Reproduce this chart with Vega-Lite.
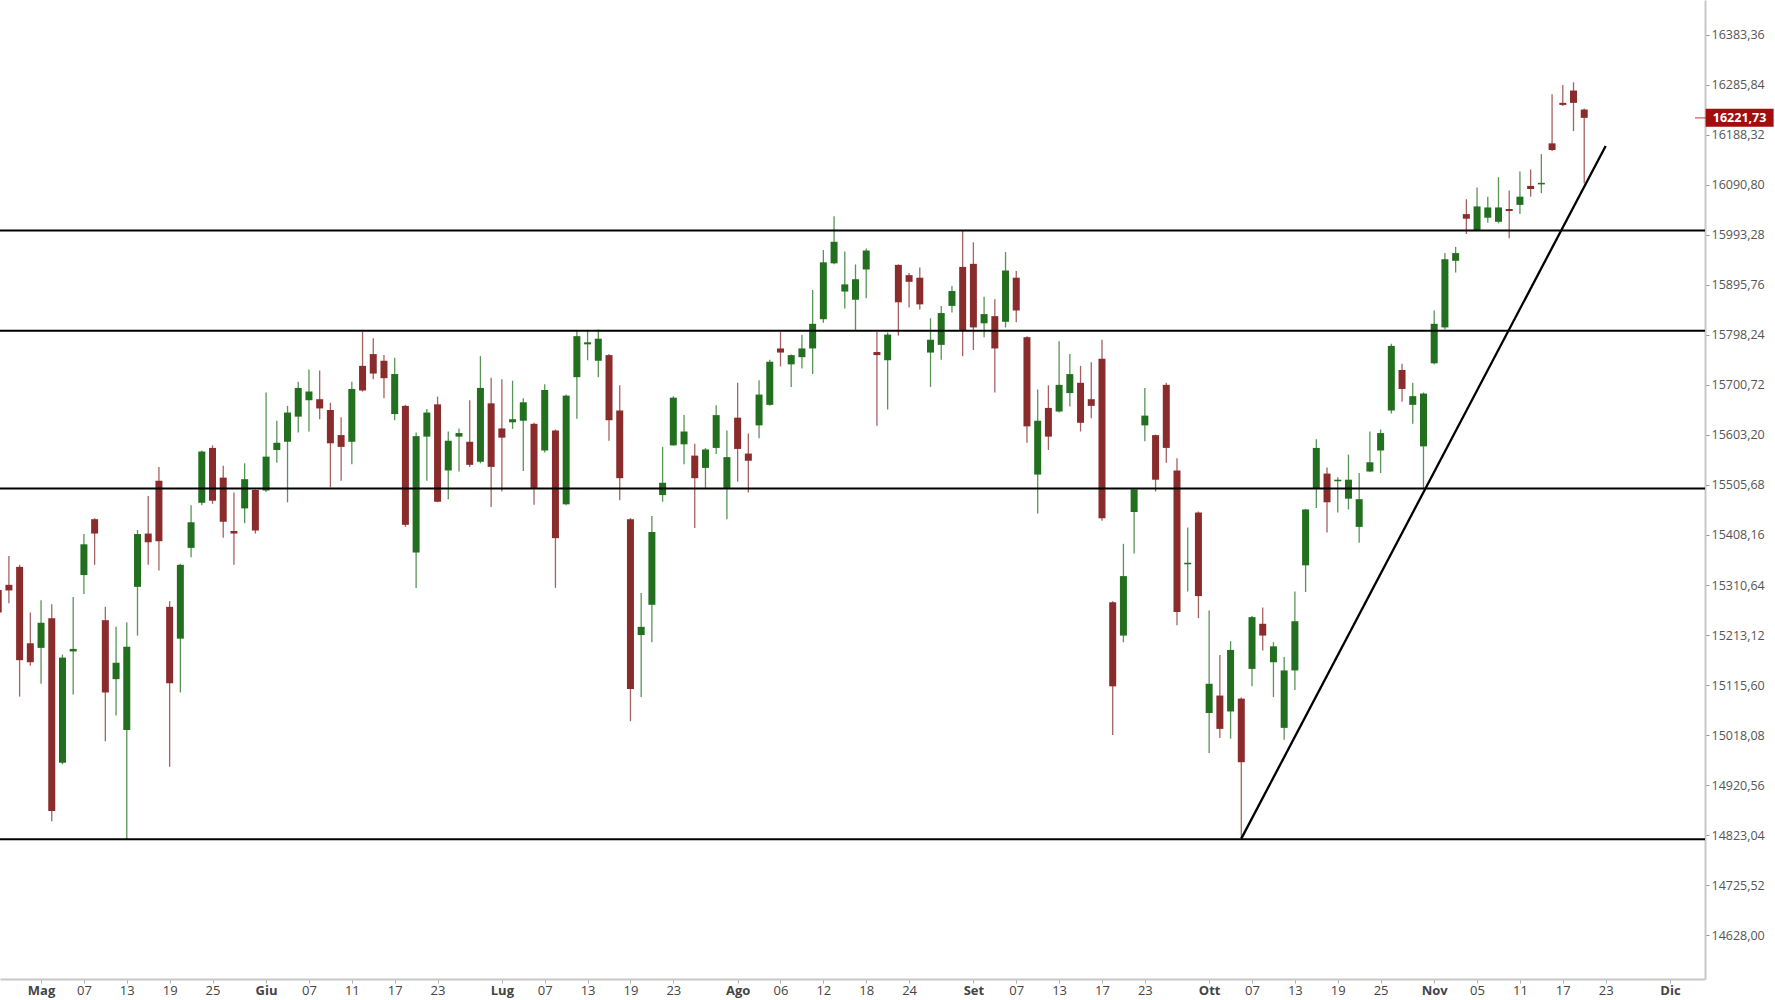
{
  "$schema": "https://vega.github.io/schema/vega-lite/v6.json",
  "width": 1705,
  "height": 979,
  "autosize": {"type": "none"},
  "padding": {"left": 0, "top": 0, "right": 70, "bottom": 21},
  "background": "white",
  "config": {"view": {"stroke": null}, "font": "Open Sans"},
  "datasets": {
    "ohlc": [
      {"d":"2021-04-27","i":-4,"o":15301,"h":15320,"l":15246,"c":15257},
      {"d":"2021-04-28","i":-3,"o":15311,"h":15367,"l":15275,"c":15300},
      {"d":"2021-04-29","i":-2,"o":15346,"h":15350,"l":15093,"c":15164},
      {"d":"2021-04-30","i":-1,"o":15197,"h":15257,"l":15153,"c":15160},
      {"d":"2021-05-03","i":0,"o":15188,"h":15281,"l":15118,"c":15237},
      {"d":"2021-05-04","i":1,"o":15246,"h":15273,"l":14850,"c":14870},
      {"d":"2021-05-05","i":2,"o":14964,"h":15175,"l":14961,"c":15169},
      {"d":"2021-05-06","i":3,"o":15181,"h":15287,"l":15097,"c":15186},
      {"d":"2021-05-07","i":4,"o":15330,"h":15410,"l":15293,"c":15390},
      {"d":"2021-05-10","i":5,"o":15439,"h":15441,"l":15350,"c":15411},
      {"d":"2021-05-11","i":6,"o":15242,"h":15268,"l":15006,"c":15101},
      {"d":"2021-05-12","i":7,"o":15127,"h":15229,"l":15056,"c":15159},
      {"d":"2021-05-13","i":8,"o":15028,"h":15238,"l":14815,"c":15190},
      {"d":"2021-05-14","i":9,"o":15307,"h":15418,"l":15212,"c":15410},
      {"d":"2021-05-17","i":10,"o":15411,"h":15484,"l":15350,"c":15394},
      {"d":"2021-05-18","i":11,"o":15514,"h":15541,"l":15339,"c":15396},
      {"d":"2021-05-19","i":12,"o":15268,"h":15279,"l":14956,"c":15119},
      {"d":"2021-05-20","i":13,"o":15206,"h":15352,"l":15101,"c":15350},
      {"d":"2021-05-21","i":14,"o":15383,"h":15466,"l":15365,"c":15433},
      {"d":"2021-05-24","i":15,"o":15471,"h":15573,"l":15466,"c":15571},
      {"d":"2021-05-25","i":16,"o":15578,"h":15583,"l":15469,"c":15475},
      {"d":"2021-05-26","i":17,"o":15520,"h":15543,"l":15403,"c":15434},
      {"d":"2021-05-27","i":18,"o":15416,"h":15491,"l":15350,"c":15411},
      {"d":"2021-05-28","i":19,"o":15460,"h":15548,"l":15431,"c":15517},
      {"d":"2021-05-31","i":20,"o":15496,"h":15497,"l":15411,"c":15417},
      {"d":"2021-06-01","i":21,"o":15495,"h":15686,"l":15492,"c":15561},
      {"d":"2021-06-02","i":22,"o":15574,"h":15631,"l":15549,"c":15588},
      {"d":"2021-06-03","i":23,"o":15590,"h":15660,"l":15472,"c":15647},
      {"d":"2021-06-04","i":24,"o":15639,"h":15707,"l":15608,"c":15695},
      {"d":"2021-06-07","i":25,"o":15671,"h":15731,"l":15610,"c":15688},
      {"d":"2021-06-08","i":26,"o":15673,"h":15729,"l":15634,"c":15655},
      {"d":"2021-06-09","i":27,"o":15652,"h":15666,"l":15501,"c":15587},
      {"d":"2021-06-10","i":28,"o":15603,"h":15638,"l":15514,"c":15580},
      {"d":"2021-06-11","i":29,"o":15590,"h":15707,"l":15546,"c":15693},
      {"d":"2021-06-14","i":30,"o":15738,"h":15805,"l":15688,"c":15690},
      {"d":"2021-06-15","i":31,"o":15761,"h":15792,"l":15712,"c":15723},
      {"d":"2021-06-16","i":32,"o":15748,"h":15759,"l":15675,"c":15714},
      {"d":"2021-06-17","i":33,"o":15644,"h":15754,"l":15632,"c":15722},
      {"d":"2021-06-18","i":34,"o":15660,"h":15662,"l":15424,"c":15428},
      {"d":"2021-06-21","i":35,"o":15374,"h":15608,"l":15305,"c":15601},
      {"d":"2021-06-22","i":36,"o":15600,"h":15654,"l":15514,"c":15647},
      {"d":"2021-06-23","i":37,"o":15663,"h":15678,"l":15472,"c":15473},
      {"d":"2021-06-24","i":38,"o":15534,"h":15610,"l":15478,"c":15592},
      {"d":"2021-06-25","i":39,"o":15600,"h":15616,"l":15532,"c":15607},
      {"d":"2021-06-28","i":40,"o":15590,"h":15671,"l":15541,"c":15545},
      {"d":"2021-06-29","i":41,"o":15551,"h":15757,"l":15548,"c":15695},
      {"d":"2021-06-30","i":42,"o":15665,"h":15715,"l":15463,"c":15541},
      {"d":"2021-07-01","i":43,"o":15616,"h":15712,"l":15493,"c":15598},
      {"d":"2021-07-02","i":44,"o":15628,"h":15709,"l":15615,"c":15634},
      {"d":"2021-07-05","i":45,"o":15631,"h":15675,"l":15533,"c":15667},
      {"d":"2021-07-06","i":46,"o":15625,"h":15627,"l":15467,"c":15500},
      {"d":"2021-07-07","i":47,"o":15573,"h":15702,"l":15569,"c":15691},
      {"d":"2021-07-08","i":48,"o":15612,"h":15614,"l":15305,"c":15402},
      {"d":"2021-07-09","i":49,"o":15468,"h":15682,"l":15466,"c":15680},
      {"d":"2021-07-12","i":50,"o":15716,"h":15807,"l":15635,"c":15796},
      {"d":"2021-07-13","i":51,"o":15780,"h":15807,"l":15749,"c":15784},
      {"d":"2021-07-14","i":52,"o":15748,"h":15809,"l":15716,"c":15791},
      {"d":"2021-07-15","i":53,"o":15759,"h":15761,"l":15592,"c":15632},
      {"d":"2021-07-16","i":54,"o":15651,"h":15700,"l":15476,"c":15519},
      {"d":"2021-07-19","i":55,"o":15439,"h":15441,"l":15045,"c":15108},
      {"d":"2021-07-20","i":56,"o":15213,"h":15295,"l":15092,"c":15229},
      {"d":"2021-07-21","i":57,"o":15272,"h":15445,"l":15199,"c":15414},
      {"d":"2021-07-22","i":58,"o":15486,"h":15580,"l":15473,"c":15510},
      {"d":"2021-07-23","i":59,"o":15583,"h":15679,"l":15582,"c":15676},
      {"d":"2021-07-26","i":60,"o":15585,"h":15642,"l":15546,"c":15610},
      {"d":"2021-07-27","i":61,"o":15563,"h":15586,"l":15422,"c":15519},
      {"d":"2021-07-28","i":62,"o":15539,"h":15578,"l":15500,"c":15575},
      {"d":"2021-07-29","i":63,"o":15578,"h":15661,"l":15566,"c":15642},
      {"d":"2021-07-30","i":64,"o":15500,"h":15612,"l":15439,"c":15560},
      {"d":"2021-08-02","i":65,"o":15637,"h":15705,"l":15512,"c":15576},
      {"d":"2021-08-03","i":66,"o":15567,"h":15606,"l":15491,"c":15553},
      {"d":"2021-08-04","i":67,"o":15622,"h":15710,"l":15597,"c":15682},
      {"d":"2021-08-05","i":68,"o":15662,"h":15750,"l":15660,"c":15746},
      {"d":"2021-08-06","i":69,"o":15772,"h":15804,"l":15737,"c":15764},
      {"d":"2021-08-09","i":70,"o":15741,"h":15760,"l":15697,"c":15759},
      {"d":"2021-08-10","i":71,"o":15755,"h":15798,"l":15733,"c":15772},
      {"d":"2021-08-11","i":72,"o":15772,"h":15886,"l":15722,"c":15820},
      {"d":"2021-08-12","i":73,"o":15829,"h":15964,"l":15822,"c":15940},
      {"d":"2021-08-13","i":74,"o":15938,"h":16030,"l":15936,"c":15980},
      {"d":"2021-08-16","i":75,"o":15883,"h":15961,"l":15850,"c":15897},
      {"d":"2021-08-17","i":76,"o":15867,"h":15936,"l":15808,"c":15907},
      {"d":"2021-08-18","i":77,"o":15926,"h":15967,"l":15870,"c":15963},
      {"d":"2021-08-19","i":78,"o":15765,"h":15804,"l":15621,"c":15759},
      {"d":"2021-08-20","i":79,"o":15749,"h":15803,"l":15653,"c":15799},
      {"d":"2021-08-23","i":80,"o":15935,"h":15936,"l":15797,"c":15862},
      {"d":"2021-08-24","i":81,"o":15915,"h":15919,"l":15852,"c":15902},
      {"d":"2021-08-25","i":82,"o":15910,"h":15930,"l":15848,"c":15858},
      {"d":"2021-08-26","i":83,"o":15764,"h":15831,"l":15697,"c":15789},
      {"d":"2021-08-27","i":84,"o":15779,"h":15855,"l":15750,"c":15841},
      {"d":"2021-08-30","i":85,"o":15855,"h":15894,"l":15842,"c":15884},
      {"d":"2021-08-31","i":86,"o":15931,"h":16001,"l":15757,"c":15808},
      {"d":"2021-09-01","i":87,"o":15937,"h":15979,"l":15769,"c":15813},
      {"d":"2021-09-02","i":88,"o":15821,"h":15873,"l":15794,"c":15839},
      {"d":"2021-09-03","i":89,"o":15835,"h":15868,"l":15686,"c":15772},
      {"d":"2021-09-06","i":90,"o":15824,"h":15960,"l":15813,"c":15924},
      {"d":"2021-09-07","i":91,"o":15910,"h":15923,"l":15823,"c":15846},
      {"d":"2021-09-08","i":92,"o":15794,"h":15796,"l":15588,"c":15620},
      {"d":"2021-09-09","i":93,"o":15526,"h":15692,"l":15450,"c":15631},
      {"d":"2021-09-10","i":94,"o":15656,"h":15700,"l":15574,"c":15600},
      {"d":"2021-09-13","i":95,"o":15649,"h":15786,"l":15647,"c":15701},
      {"d":"2021-09-14","i":96,"o":15685,"h":15761,"l":15659,"c":15722},
      {"d":"2021-09-15","i":97,"o":15705,"h":15738,"l":15610,"c":15627},
      {"d":"2021-09-16","i":98,"o":15673,"h":15745,"l":15636,"c":15660},
      {"d":"2021-09-17","i":99,"o":15752,"h":15789,"l":15436,"c":15441},
      {"d":"2021-09-20","i":100,"o":15277,"h":15279,"l":15018,"c":15113},
      {"d":"2021-09-21","i":101,"o":15212,"h":15391,"l":15199,"c":15328},
      {"d":"2021-09-22","i":102,"o":15453,"h":15500,"l":15372,"c":15497},
      {"d":"2021-09-23","i":103,"o":15622,"h":15695,"l":15591,"c":15641},
      {"d":"2021-09-24","i":104,"o":15603,"h":15604,"l":15493,"c":15516},
      {"d":"2021-09-27","i":105,"o":15701,"h":15705,"l":15549,"c":15578},
      {"d":"2021-09-28","i":106,"o":15534,"h":15558,"l":15232,"c":15258},
      {"d":"2021-09-29","i":107,"o":15351,"h":15423,"l":15298,"c":15354},
      {"d":"2021-09-30","i":108,"o":15452,"h":15454,"l":15246,"c":15289},
      {"d":"2021-10-01","i":109,"o":15061,"h":15261,"l":14983,"c":15118},
      {"d":"2021-10-04","i":110,"o":15095,"h":15174,"l":15012,"c":15030},
      {"d":"2021-10-05","i":111,"o":15064,"h":15201,"l":15011,"c":15184},
      {"d":"2021-10-06","i":112,"o":15089,"h":15091,"l":14816,"c":14965},
      {"d":"2021-10-07","i":113,"o":15147,"h":15250,"l":15113,"c":15248},
      {"d":"2021-10-08","i":114,"o":15235,"h":15267,"l":15183,"c":15212},
      {"d":"2021-10-11","i":115,"o":15160,"h":15199,"l":15092,"c":15191},
      {"d":"2021-10-12","i":116,"o":15032,"h":15170,"l":15009,"c":15144},
      {"d":"2021-10-13","i":117,"o":15144,"h":15298,"l":15106,"c":15240},
      {"d":"2021-10-14","i":118,"o":15349,"h":15459,"l":15297,"c":15458},
      {"d":"2021-10-15","i":119,"o":15498,"h":15595,"l":15461,"c":15578},
      {"d":"2021-10-18","i":120,"o":15528,"h":15540,"l":15413,"c":15472},
      {"d":"2021-10-19","i":121,"o":15513,"h":15521,"l":15452,"c":15516},
      {"d":"2021-10-20","i":122,"o":15479,"h":15565,"l":15458,"c":15516},
      {"d":"2021-10-21","i":123,"o":15424,"h":15529,"l":15393,"c":15478},
      {"d":"2021-10-22","i":124,"o":15532,"h":15610,"l":15531,"c":15550},
      {"d":"2021-10-25","i":125,"o":15573,"h":15614,"l":15529,"c":15607},
      {"d":"2021-10-26","i":126,"o":15651,"h":15781,"l":15645,"c":15777},
      {"d":"2021-10-27","i":127,"o":15730,"h":15742,"l":15668,"c":15693},
      {"d":"2021-10-28","i":128,"o":15662,"h":15705,"l":15625,"c":15679},
      {"d":"2021-10-29","i":129,"o":15581,"h":15686,"l":15500,"c":15684},
      {"d":"2021-11-01","i":130,"o":15743,"h":15846,"l":15741,"c":15820},
      {"d":"2021-11-02","i":131,"o":15813,"h":15958,"l":15809,"c":15946},
      {"d":"2021-11-03","i":132,"o":15943,"h":15970,"l":15920,"c":15958},
      {"d":"2021-11-04","i":133,"o":16034,"h":16063,"l":15995,"c":16025},
      {"d":"2021-11-05","i":134,"o":16003,"h":16086,"l":16001,"c":16049},
      {"d":"2021-11-08","i":135,"o":16027,"h":16068,"l":16017,"c":16047},
      {"d":"2021-11-09","i":136,"o":16019,"h":16106,"l":16016,"c":16047},
      {"d":"2021-11-10","i":137,"o":16044,"h":16080,"l":15987,"c":16040},
      {"d":"2021-11-11","i":138,"o":16052,"h":16117,"l":16034,"c":16068},
      {"d":"2021-11-12","i":139,"o":16089,"h":16121,"l":16068,"c":16083},
      {"d":"2021-11-15","i":140,"o":16092,"h":16151,"l":16075,"c":16095},
      {"d":"2021-11-16","i":141,"o":16172,"h":16268,"l":16157,"c":16159},
      {"d":"2021-11-17","i":142,"o":16251,"h":16286,"l":16245,"c":16247},
      {"d":"2021-11-18","i":143,"o":16275,"h":16291,"l":16196,"c":16251},
      {"d":"2021-11-19","i":144,"o":16238,"h":16240,"l":16094,"c":16221.73}
    ],
    "levels": [{"lvl": 16002}, {"lvl": 15806.6}, {"lvl": 15498.8}, {"lvl": 14814.7}],
    "trend": [{"i": 112, "v": 14816}, {"i": 146, "v": 16167}],
    "last": [{"p": 16221.73, "lab": "16221,73"}]
  },
  "layer": [
    {
      "data": {"name": "ohlc"},
      "mark": {"type": "rule", "strokeWidth": 1.3, "opacity": 0.75, "clip": true},
      "encoding": {
        "x": {
          "field": "i", "type": "quantitative",
          "scale": {"domain": [-3.83, 155.27], "nice": false, "zero": false, "padding": 0},
          "axis": {
            "title": null, "grid": false, "orient": "bottom",
            "values": [0,4,8,12,16,21,25,29,33,37,43,47,51,55,59,65,69,73,77,81,87,91,95,99,103,109,113,117,121,125,130,134,138,142,146,152],
            "labelExpr": "['Mag','07','13','19','25','Giu','07','11','17','23','Lug','07','13','19','23','Ago','06','12','18','24','Set','07','13','17','23','Ott','07','13','19','25','Nov','05','11','17','23','Dic'][indexof([0,4,8,12,16,21,25,29,33,37,43,47,51,55,59,65,69,73,77,81,87,91,95,99,103,109,113,117,121,125,130,134,138,142,146,152], datum.value)]",
            "labelFontWeight": {"condition": {"test": "indexof([0,21,43,65,87,109,130,152], datum.value) >= 0", "value": "bold"}, "value": "normal"},
            "labelFont": "Open Sans", "labelFontSize": 13, "labelColor": "#444444",
            "labelPadding": 1, "labelFlush": false, "labelOverlap": false,
            "domainColor": "#c8c8c8", "domainWidth": 2,
            "tickColor": "#b0b0b0", "tickSize": 4
          }
        },
        "y": {
          "field": "l", "type": "quantitative",
          "scale": {"domain": [14542.2, 16451.6], "nice": false, "zero": false, "padding": 0},
          "axis": {
            "title": null, "grid": false, "orient": "right",
            "values": [14628.00,14725.52,14823.04,14920.56,15018.08,15115.60,15213.12,15310.64,15408.16,15505.68,15603.20,15700.72,15798.24,15895.76,15993.28,16090.80,16188.32,16285.84,16383.36],
            "labelExpr": "replace(format(datum.value, '.2f'), '.', ',')",
            "labelFont": "Open Sans", "labelFontSize": 12.5, "labelColor": "#555555",
            "labelPadding": 2, "labelFlush": false, "labelOverlap": false,
            "domainColor": "#c8c8c8", "domainWidth": 2,
            "tickColor": "#999999", "tickSize": 4
          }
        },
        "y2": {"field": "h"},
        "color": {"condition": {"test": "datum.c >= datum.o", "value": "#22701f"}, "value": "#8b2c2c"}
      }
    },
    {
      "data": {"name": "ohlc"},
      "mark": {"type": "bar", "size": 7, "clip": true},
      "encoding": {
        "x": {"field": "i", "type": "quantitative", "scale": {"domain": [-3.83, 155.27], "nice": false, "zero": false, "padding": 0}, "axis": {"title": null}},
        "y": {"field": "o", "type": "quantitative", "scale": {"domain": [14542.2, 16451.6], "nice": false, "zero": false, "padding": 0}, "axis": {"title": null}},
        "y2": {"field": "c"},
        "color": {"condition": {"test": "datum.c >= datum.o", "value": "#22701f"}, "value": "#8b2c2c"}
      }
    },
    {
      "data": {"name": "levels"},
      "mark": {"type": "rule", "color": "black", "strokeWidth": 2},
      "encoding": {
        "y": {"field": "lvl", "type": "quantitative", "scale": {"domain": [14542.2, 16451.6], "nice": false, "zero": false, "padding": 0}, "axis": {"title": null}}
      }
    },
    {
      "data": {"name": "trend"},
      "mark": {"type": "line", "color": "black", "strokeWidth": 2.3},
      "encoding": {
        "x": {"field": "i", "type": "quantitative", "scale": {"domain": [-3.83, 155.27], "nice": false, "zero": false, "padding": 0}, "axis": {"title": null}},
        "y": {"field": "v", "type": "quantitative", "scale": {"domain": [14542.2, 16451.6], "nice": false, "zero": false, "padding": 0}, "axis": {"title": null}}
      }
    },
    {
      "data": {"name": "last"},
      "mark": {"type": "tick", "orient": "horizontal", "size": 12, "thickness": 1.5, "color": "#c04040", "clip": false},
      "encoding": {
        "x": {"datum": 154.9, "type": "quantitative", "scale": {"domain": [-3.83, 155.27], "nice": false, "zero": false, "padding": 0}, "axis": {"title": null}},
        "y": {"field": "p", "type": "quantitative", "scale": {"domain": [14542.2, 16451.6], "nice": false, "zero": false, "padding": 0}, "axis": {"title": null}}
      }
    },
    {
      "data": {"name": "last"},
      "mark": {"type": "tick", "orient": "horizontal", "size": 68, "thickness": 18, "color": "#a30d0d", "opacity": 1, "clip": false},
      "encoding": {
        "x": {"datum": 158.5, "type": "quantitative", "scale": {"domain": [-3.83, 155.27], "nice": false, "zero": false, "padding": 0}, "axis": {"title": null}},
        "y": {"field": "p", "type": "quantitative", "scale": {"domain": [14542.2, 16451.6], "nice": false, "zero": false, "padding": 0}, "axis": {"title": null}}
      }
    },
    {
      "data": {"name": "last"},
      "mark": {"type": "text", "color": "white", "fontWeight": "bold", "fontSize": 12.5, "font": "Open Sans", "clip": false},
      "encoding": {
        "x": {"datum": 158.5, "type": "quantitative", "scale": {"domain": [-3.83, 155.27], "nice": false, "zero": false, "padding": 0}, "axis": {"title": null}},
        "y": {"field": "p", "type": "quantitative", "scale": {"domain": [14542.2, 16451.6], "nice": false, "zero": false, "padding": 0}, "axis": {"title": null}},
        "text": {"field": "lab"}
      }
    }
  ]
}
